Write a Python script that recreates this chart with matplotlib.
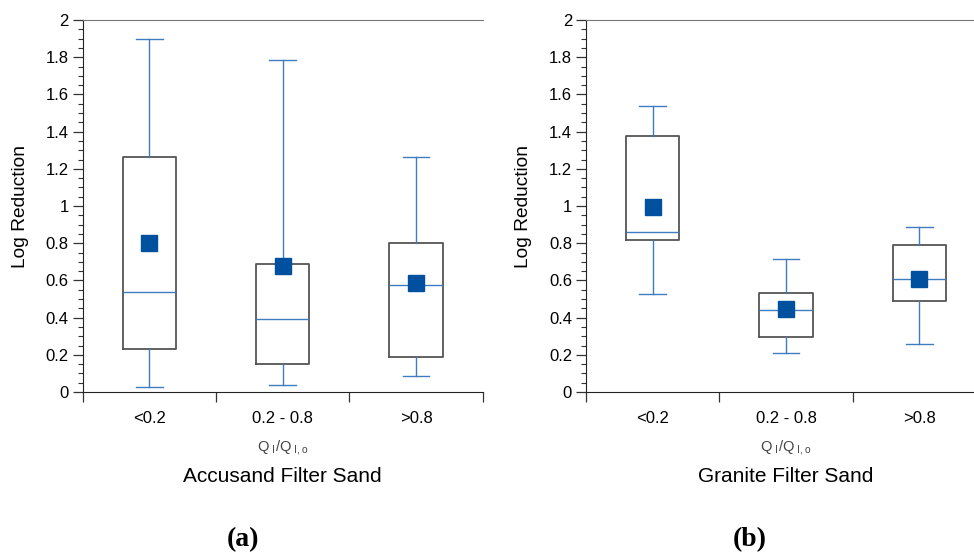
import numpy as np
import matplotlib.pyplot as plt
from matplotlib.ticker import MultipleLocator, FixedLocator, NullFormatter

plt.rcParams['font.family'] = ['Liberation Sans', 'DejaVu Sans']

# data
categories = ['<0.2', '0.2 - 0.8', '>0.8']

accusand_lo = [0.025, 0.04, 0.085]
accusand_q1 = [0.23, 0.15, 0.19]
accusand_med = [0.535, 0.39, 0.575]
accusand_q3 = [1.265, 0.69, 0.80]
accusand_hi = [1.90, 1.785, 1.265]
accusand_mean = [0.80, 0.675, 0.585]

granite_lo = [0.525, 0.21, 0.26]
granite_q1 = [0.815, 0.295, 0.49]
granite_med = [0.86, 0.44, 0.605]
granite_q3 = [1.375, 0.53, 0.79]
granite_hi = [1.535, 0.715, 0.885]
granite_mean = [0.995, 0.445, 0.61]

panels = [
    ('Accusand Filter Sand', '(a)', accusand_lo, accusand_q1, accusand_med, accusand_q3, accusand_hi, accusand_mean),
    ('Granite Filter Sand', '(b)', granite_lo, granite_q1, granite_med, granite_q3, granite_hi, granite_mean),
]

W, H = 974, 556
fig = plt.figure(figsize=(W / 100, H / 100), dpi=100)

blue = '#3f7cc0'
edge = '#555555'
mean_col = '#0050a0'

lefts = [82.7, 586]
for (name, tag, lo, q1, med, q3, hi, mean), left in zip(panels, lefts):
    ax = fig.add_axes([left / W, 1 - 392 / H, 400 / W, (392 - 20) / H])
    stats = []
    for i in range(len(categories)):
        stats.append(dict(whislo=lo[i], q1=q1[i], med=med[i], q3=q3[i],
                          whishi=hi[i], mean=mean[i], fliers=[]))
    ax.bxp(stats, positions=range(len(categories)), widths=0.4, capwidths=0.2,
           showmeans=True,
           boxprops=dict(color=edge, linewidth=1.3),
           whiskerprops=dict(color=blue, linewidth=1.0),
           capprops=dict(color=blue, linewidth=1.0),
           medianprops=dict(color=blue, linewidth=1.0),
           meanprops=dict(marker='s', markersize=11, markerfacecolor=mean_col,
                          markeredgecolor=mean_col))

    ax.set_xlim(-0.5, 2.5)
    ax.set_ylim(0, 2)
    ax.spines['right'].set_visible(False)
    for s in ['left', 'bottom']:
        ax.spines[s].set_color('#222222')
    ax.spines['top'].set_color('#777777')

    ax.yaxis.set_minor_locator(MultipleLocator(0.05))
    ax.set_yticks(np.arange(0, 2.01, 0.2))
    ax.set_yticklabels(['0', '0.2', '0.4', '0.6', '0.8', '1', '1.2', '1.4', '1.6', '1.8', '2'])
    ax.tick_params(axis='y', which='major', length=7, width=0.9, color='#333333',
                   labelsize=12, pad=3)
    ax.tick_params(axis='y', which='minor', length=3.5, width=0.8, color='#333333')

    # category separators as major ticks, labels at minor positions
    ax.xaxis.set_major_locator(FixedLocator([-0.5, 0.5, 1.5, 2.5]))
    ax.xaxis.set_major_formatter(NullFormatter())
    ax.xaxis.set_minor_locator(FixedLocator(range(len(categories))))
    ax.set_xticklabels(categories, minor=True)
    ax.tick_params(axis='x', which='major', length=7, width=0.9, color='#333333')
    ax.tick_params(axis='x', which='minor', length=0, labelsize=12, pad=14)

    ax.set_ylabel('Log Reduction', fontsize=13.8, labelpad=12)
    ax.set_xlabel(r'$\mathregular{Q_{\ I}/Q_{\ I,o}}$', fontsize=10.5, color='#444444',
                  labelpad=8)
    ax.text(0.5, -0.228, name, transform=ax.transAxes, ha='center', va='center',
            fontsize=15)
    ax.text(0.40 if tag == '(a)' else 0.41, -0.398, tag, transform=ax.transAxes,
            ha='center', va='center', fontsize=20, fontweight='bold',
            family='Liberation Serif')

fig.savefig('out.png', dpi=100)
